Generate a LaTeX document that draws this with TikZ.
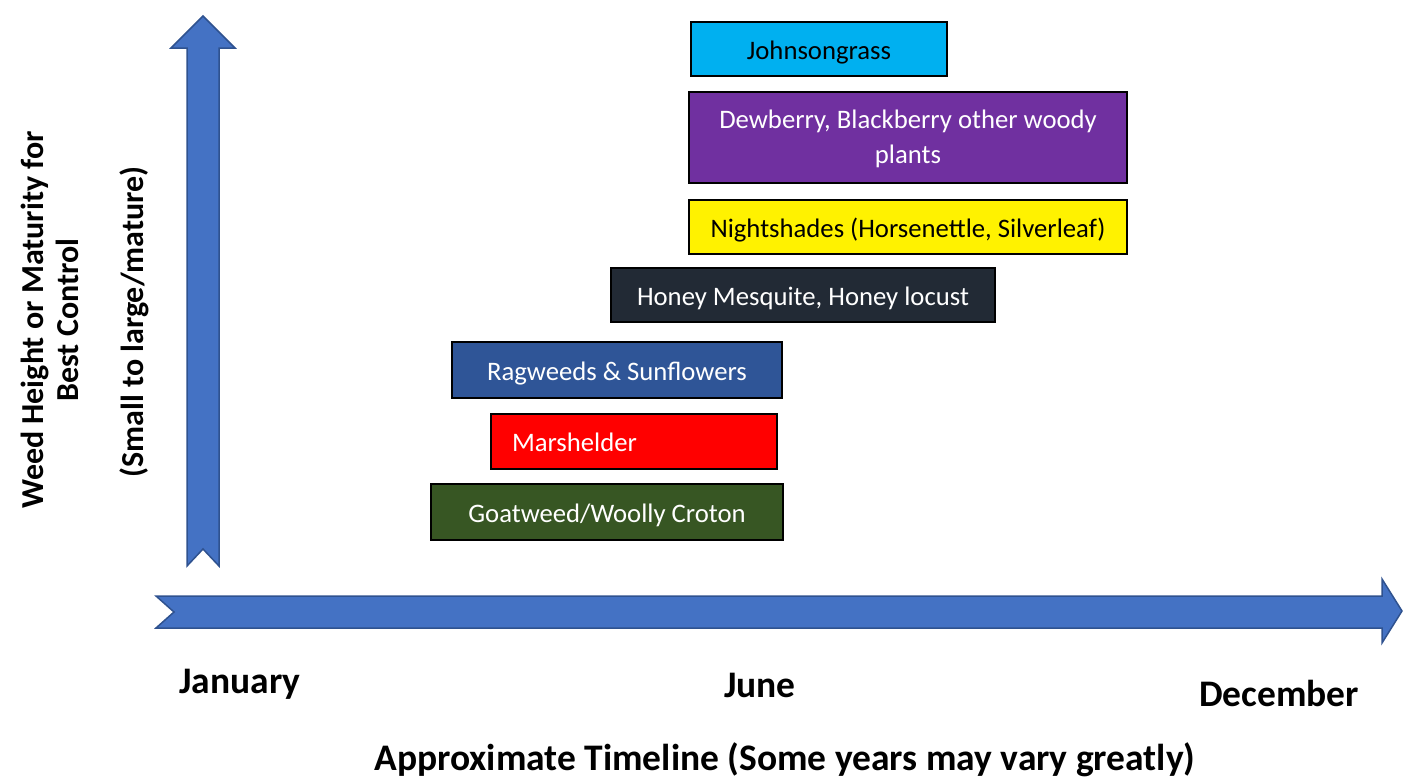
\documentclass[tikz,border=0pt]{standalone}
\usepackage{fontspec}
\setmainfont{Carlito}
\usepackage{tikz}
\usepackage{xcolor}
\definecolor{arrowfill}{HTML}{4472C4}
\definecolor{arrowedge}{HTML}{2F528F}
\definecolor{johnson}{HTML}{00B0F0}
\definecolor{dewberry}{HTML}{7030A0}
\definecolor{mesquite}{HTML}{222A35}
\definecolor{ragweed}{HTML}{2F5597}
\definecolor{goatweed}{HTML}{375623}

\begin{document}
\begin{tikzpicture}[x=1pt, y=-1pt,
    weedbox/.style={draw=black, line width=1.5pt, inner sep=0pt, text=white,
        font=\fontsize{26.7}{35}\selectfont},
    oneline/.style={text height=25pt, text depth=5pt},
    bigarrow/.style={fill=arrowfill, draw=arrowedge, line width=1.5pt, line join=miter},
    sidelabel/.style={font=\fontsize{32}{35}\selectfont\bfseries, align=center, rotate=90},
    axislabel/.style={font=\fontsize{37.5}{40}\selectfont\bfseries}]
    \useasboundingbox (0,0) rectangle (1403,779);
    \def\boxh{54}
    % axes
    \draw[bigarrow] (187,566) -- (187,48) -- (171,48) -- (203,16) -- (235,48) -- (219,48) -- (219,566) -- (203,549) -- cycle;
    \draw[bigarrow] (156,596) -- (1382,596) -- (1382,579) -- (1402,611) -- (1382,643) -- (1382,628) -- (156,628) -- (174,612) -- cycle;
	% weeds
	\node[weedbox, oneline, fill=johnson, text=black, minimum width=256, minimum height=\boxh] (johnsongrass) at (819,49) {Johnsongrass};
	\node[weedbox, fill=dewberry, minimum width=438, minimum height=91, align=center, text depth=1pt] (dewberry) at (908,137.5) {Dewberry, Blackberry other woody\\plants};
	\node[weedbox, oneline, fill=yellow, text=black, minimum width=438, minimum height=\boxh] (nightshades) at (908,227) {Nightshades (Horsenettle, Silverleaf)};
	\node[weedbox, oneline, fill=mesquite, minimum width=384, minimum height=\boxh] (mesquite) at (803,295) {Honey Mesquite, Honey locust};
	\node[weedbox, oneline, fill=ragweed, minimum width=330, minimum height=56] (ragweeds) at (617,370) {Ragweeds \& Sunflowers};
	\node[weedbox, oneline, fill=red, inner xsep=21pt, text width=244pt, align=left, minimum height=55] (marshelder) at (634,441.5) {Marshelder};
	\node[weedbox, oneline, fill=goatweed, minimum width=352, minimum height=56] (goatweed) at (607,512) {Goatweed/Woolly Croton};
	% labels
	\node[sidelabel] (height) at (50,320) {Weed Height or Maturity for\\Best Control};
	\node[sidelabel] (size) at (134,322) {(Small to large/mature)};
	\node[axislabel] (january) at (240,684) {January};
	\node[axislabel] (june) at (760,685) {June};
	\node[axislabel] (december) at (1279,693) {December};
	\node[axislabel] (timeline) at (785,760) {Approximate Timeline (Some years may vary greatly)};
\end{tikzpicture}
\end{document}
